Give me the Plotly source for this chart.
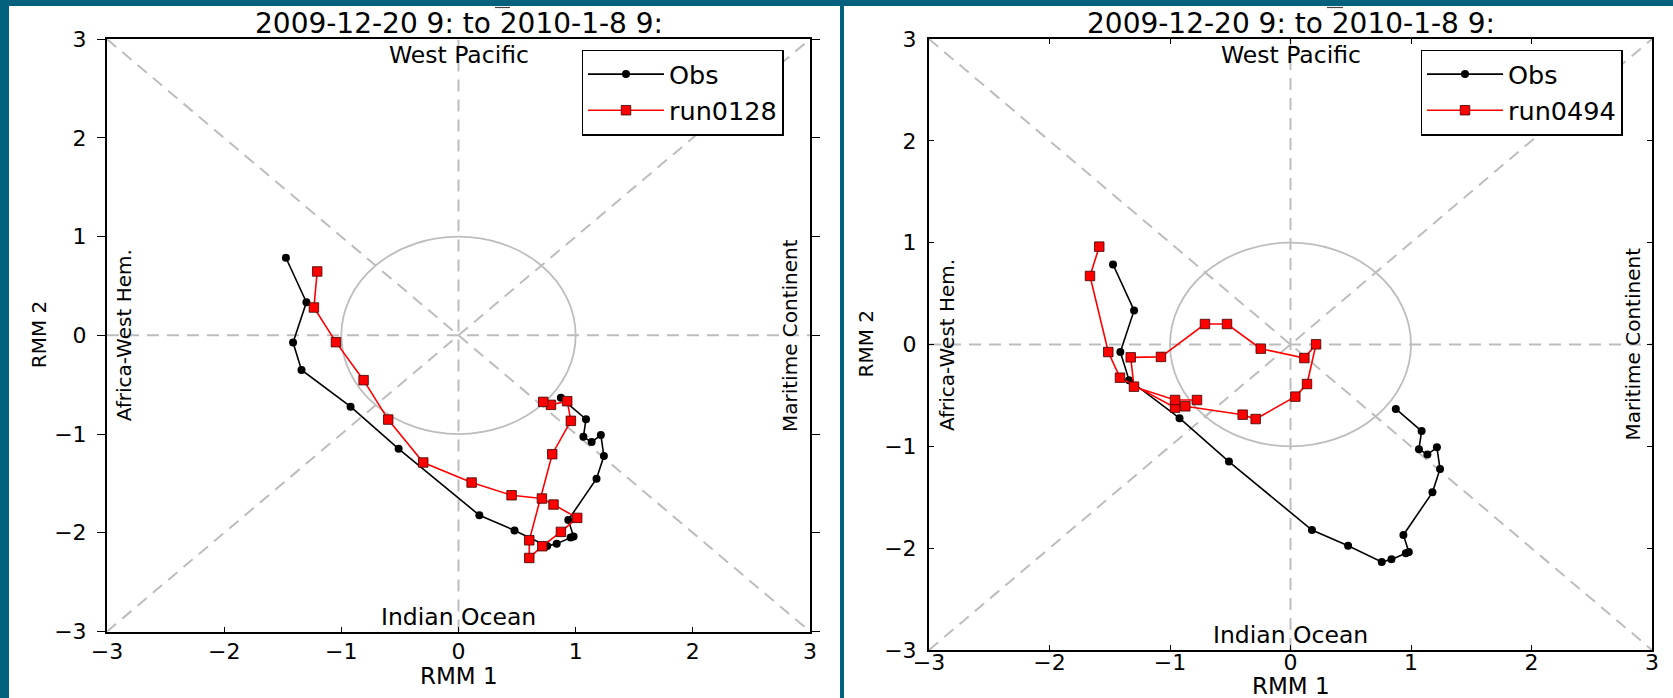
import plotly.graph_objects as go

# ---------------- data ----------------
obs_rmm1 = [-1.473, -1.298, -1.412, -1.340, -0.921, -0.511, 0.178, 0.478, 0.757, 0.838,
            0.957, 0.982, 0.937, 1.178, 1.241, 1.215, 1.136, 1.066, 1.088, 0.874]
obs_rmm2 = [0.786, 0.335, -0.073, -0.350, -0.723, -1.150, -1.822, -1.976, -2.135, -2.110,
            -2.049, -2.038, -1.870, -1.452, -1.223, -1.010, -1.081, -1.028, -0.850, -0.633]

run0128_rmm1 = [-1.206, -1.234, -1.046, -0.810, -0.600, -0.301, 0.112, 0.453, 0.712, 0.811,
                1.013, 0.874, 0.715, 0.604, 0.604, 0.800, 0.959, 0.928, 0.789, 0.723]
run0128_rmm2 = [0.647, 0.282, -0.069, -0.454, -0.853, -1.288, -1.491, -1.620, -1.653, -1.714,
                -1.849, -1.991, -2.136, -2.255, -2.076, -1.204, -0.866, -0.667, -0.704, -0.674]

run0494_rmm1 = [-1.587, -1.664, -1.512, -1.415, -0.958, -0.873, -0.397, -0.289, 0.040, 0.137,
                0.212, 0.115, -0.247, -0.527, -0.710, -1.075, -1.326, -1.299, -0.958, -0.776]
run0494_rmm2 = [0.961, 0.673, -0.074, -0.326, -0.620, -0.607, -0.689, -0.732, -0.512, -0.388,
                0.002, -0.133, -0.041, 0.201, 0.201, -0.122, -0.126, -0.414, -0.545, -0.545]

tick_vals = [-3, -2, -1, 0, 1, 2, 3]
tick_text = ["\u22123", "\u22122", "\u22121", "0", "1", "2", "3"]

title_text = "2009-12-20 9: to 2010-1-8 9:"
phase_labels = ["West Pacific", "Indian Ocean", "Africa-West Hem.", "Maritime Continent"]

# ---------------- layout helpers ----------------
W, H = 1673, 698
F = "DejaVu Sans"
TEAL = "#02617d"
GRAY = "#bdbdbd"


def px(p):
    return p / W


def py(p):
    return 1 - p / H


panels = [
    dict(x="x", y="y", xd=[px(107), px(810)], yd=[py(631.5), py(39.2)], leg="legend",
         run_x=run0128_rmm1, run_y=run0128_rmm2, run_name="run0128"),
    dict(x="x2", y="y2", xd=[px(929), px(1652)], yd=[py(650), py(39)], leg="legend2",
         run_x=run0494_rmm1, run_y=run0494_rmm2, run_name="run0494"),
]

fig = go.Figure()
for p in panels:
    fig.add_trace(go.Scatter(
        x=obs_rmm1, y=obs_rmm2, mode="lines+markers", name="Obs",
        line=dict(color="black", width=1.6),
        marker=dict(symbol="circle", size=8, color="black"),
        xaxis=p["x"], yaxis=p["y"], legend=p["leg"]))
    fig.add_trace(go.Scatter(
        x=p["run_x"], y=p["run_y"], mode="lines+markers", name=p["run_name"],
        line=dict(color="red", width=1.6),
        marker=dict(symbol="square", size=9.5, color="red",
                    line=dict(color="#3a0000", width=0.8)),
        xaxis=p["x"], yaxis=p["y"], legend=p["leg"]))

shapes = [
    dict(type="rect", xref="paper", yref="paper", x0=px(9), x1=px(840), y0=-0.01, y1=py(6),
         fillcolor="white", line=dict(width=0), layer="below"),
    dict(type="rect", xref="paper", yref="paper", x0=px(844), x1=1.01, y0=-0.01, y1=py(6),
         fillcolor="white", line=dict(width=0), layer="below"),
    dict(type="line", xref="paper", yref="paper", x0=px(495), x1=px(510), y0=py(7.5), y1=py(7.5),
         line=dict(color="#444", width=1.2)),
    dict(type="line", xref="paper", yref="paper", x0=px(1327), x1=px(1343), y0=py(7.5), y1=py(7.5),
         line=dict(color="#444", width=1.2)),
]
annotations = []
for p in panels:
    xr, yr = p["x"], p["y"]
    for (x0, y0, x1, y1) in [(-3, 0, 3, 0), (0, -3, 0, 3), (-3, -3, 3, 3), (-3, 3, 3, -3)]:
        shapes.append(dict(type="line", xref=xr, yref=yr, x0=x0, y0=y0, x1=x1, y1=y1,
                           line=dict(color=GRAY, width=2, dash="12px,8px"), layer="below"))
    shapes.append(dict(type="circle", xref=xr, yref=yr, x0=-1, y0=-1, x1=1, y1=1,
                       line=dict(color=GRAY, width=1.8), layer="below"))
    annotations += [
        dict(text=phase_labels[0], x=0, y=2.845, xref=xr, yref=yr, showarrow=False,
             font=dict(family=F, size=23.5, color="black"), xanchor="center", yanchor="middle"),
        dict(text=phase_labels[1], x=0, y=-2.85, xref=xr, yref=yr, showarrow=False,
             font=dict(family=F, size=23.5, color="black"), xanchor="center", yanchor="middle"),
        dict(text=phase_labels[2], x=-2.855, y=0, xref=xr, yref=yr, showarrow=False, textangle=-90,
             font=dict(family=F, size=20, color="black"), xanchor="center", yanchor="middle"),
        dict(text=phase_labels[3], x=2.835, y=0, xref=xr, yref=yr, showarrow=False, textangle=-90,
             font=dict(family=F, size=20, color="black"), xanchor="center", yanchor="middle"),
    ]

# titles & axis titles
annotations += [
    dict(text=title_text, x=px(458.5), y=py(23), xref="paper", yref="paper", showarrow=False,
         font=dict(family=F, size=28, color="black"), xanchor="center", yanchor="middle"),
    dict(text=title_text, x=px(1290.5), y=py(23), xref="paper", yref="paper", showarrow=False,
         font=dict(family=F, size=28, color="black"), xanchor="center", yanchor="middle"),
    dict(text="RMM 1", x=px(458.5), y=py(676), xref="paper", yref="paper", showarrow=False,
         font=dict(family=F, size=23, color="black"), xanchor="center", yanchor="middle"),
    dict(text="RMM 1", x=px(1290.5), y=py(686), xref="paper", yref="paper", showarrow=False,
         font=dict(family=F, size=23, color="black"), xanchor="center", yanchor="middle"),
    dict(text="RMM 2", x=px(38.6), y=py(334.6), xref="paper", yref="paper", showarrow=False,
         textangle=-90, font=dict(family=F, size=20, color="black"), xanchor="center", yanchor="middle"),
    dict(text="RMM 2", x=px(865.5), y=py(344), xref="paper", yref="paper", showarrow=False,
         textangle=-90, font=dict(family=F, size=20, color="black"), xanchor="center", yanchor="middle"),
]

tickfont = dict(family=F, size=22, color="black")
common = dict(range=[-3, 3], tickvals=tick_vals, ticktext=tick_text, showgrid=False, zeroline=False,
              tickcolor="black", tickwidth=1.2, tickfont=tickfont, fixedrange=True)

layout = dict(
    width=W, height=H, autosize=False,
    margin=dict(l=0, r=0, t=0, b=0, pad=0, autoexpand=False),
    paper_bgcolor=TEAL, plot_bgcolor="white",
    showlegend=True,
    xaxis=dict(domain=panels[0]["xd"], anchor="y", ticks="inside", ticklen=5, showline=True,
               linecolor="black", linewidth=2, mirror=True, ticklabelstandoff=-1, **common),
    xaxis3=dict(overlaying="x", anchor="y", side="top", ticks="outside", ticklen=8,
                showticklabels=False, showline=False, **common),
    yaxis=dict(domain=panels[0]["yd"], anchor="x", ticks="outside", ticklen=8, showline=True,
               linecolor="black", linewidth=2, mirror="ticks", ticklabelstandoff=6, **common),
    xaxis2=dict(domain=panels[1]["xd"], anchor="y2", ticks="inside", ticklen=5, showline=True,
                linecolor="black", linewidth=2, mirror="ticks", ticklabelstandoff=-8, **common),
    yaxis2=dict(domain=panels[1]["yd"], anchor="x2", ticks="inside", ticklen=5, showline=True,
                linecolor="black", linewidth=2, mirror="ticks", ticklabelstandoff=6, **common),
    legend=dict(x=px(682.5), y=py(49.5), xanchor="center", yanchor="top", bgcolor="white",
                bordercolor="black", borderwidth=1.5, itemwidth=76, traceorder="normal",
                font=dict(family=F, size=25.5, color="black")),
    legend2=dict(x=px(1521.5), y=py(49.5), xanchor="center", yanchor="top", bgcolor="white",
                 bordercolor="black", borderwidth=1.5, itemwidth=76, traceorder="normal",
                 font=dict(family=F, size=25.5, color="black")),
    shapes=shapes, annotations=annotations,
)
fig.update_layout(**layout)
fig.write_html("out.html")
